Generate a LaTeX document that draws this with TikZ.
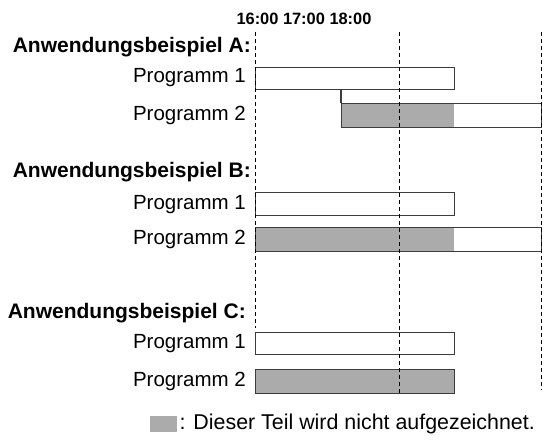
\documentclass[tikz,border=0pt]{standalone}
\usepackage{fontspec}
\setmainfont{Liberation Sans}
\usepackage{xcolor}
\usepackage{tikz}
\usetikzlibrary{
    positioning,
    calc
}
\definecolor{recgray}{HTML}{ABABAB}
\definecolor{recline}{HTML}{3C3C3C}
\tikzset{
    % Bar outline of a programme
    bar/.style={
        rectangle,
        draw=recline,
        line width=1.4pt,
        fill=none,
        inner sep=0pt,
        anchor=north west
    },
    % Part that is not recorded
    unrec/.style={
        rectangle,
        fill=recgray,
        draw=none,
        inner sep=0pt,
        anchor=north west
    },
    % Section heading
    heading/.style={
        font=\fontsize{21}{25}\selectfont\bfseries,
        inner sep=0pt
    },
    % Programme label
    proglabel/.style={
        font=\fontsize{20.5}{24}\selectfont,
        inner sep=0pt
    },
    % Legend text
    keytext/.style={
        font=\fontsize{21.4}{25}\selectfont,
        inner sep=0pt
    },
    % Time label
    timelabel/.style={
        font=\fontsize{16.4}{19}\selectfont\bfseries,
        inner sep=0pt
    },
    % Dashed time line
    timeline/.style={
        dash pattern=on 4pt off 3pt,
        line width=1pt,
        color=black
    }
}

\begin{document}
\begin{tikzpicture}[x=1pt,y=-1pt]
    \useasboundingbox (0,0) rectangle (546,440);

    \node[timelabel, anchor=base] (times) at (304,24) {16:00 17:00 18:00};

    % Example A
    \node[heading, anchor=base east] (head-a) at (251,52) {Anwendungsbeispiel A:};
    \node[unrec, minimum width=113pt, minimum height=24pt] (a-p2-off) at (341,103) {};
    \node[bar, minimum width=199pt, minimum height=22pt] (a-p1) at (255,67) {};
    \node[bar, minimum width=200pt, minimum height=24pt] (a-p2) at (341,103) {};
    \coordinate (a-r1) at (255,78);
    \coordinate (a-r2) at (255,115);
    \node[proglabel, left=9pt of a-r1] (a-l1) {Programm 1};
    \node[proglabel, left=9pt of a-r2] (a-l2) {Programm 2};
    \draw[draw=recline, line width=1.4pt] (a-p2.north west) -- (a-p2.north west |- a-p1.south);

    % Example B
    \node[heading, anchor=base east] (head-b) at (251,177) {Anwendungsbeispiel B:};
    \node[unrec, minimum width=199pt, minimum height=24pt] (b-p2-off) at (255,227) {};
    \node[bar, minimum width=199pt, minimum height=23pt] (b-p1) at (255,192) {};
    \node[bar, minimum width=286pt, minimum height=24pt] (b-p2) at (255,227) {};
    \node[proglabel, left=9pt of b-p1] (b-l1) {Programm 1};
    \node[proglabel, left=9pt of b-p2] (b-l2) {Programm 2};

    % Example C
    \node[heading, anchor=base east] (head-c) at (246,318) {Anwendungsbeispiel C:};
    \node[unrec, minimum width=199pt, minimum height=24pt] (c-p2-off) at (255,369) {};
    \node[bar, minimum width=199pt, minimum height=22pt] (c-p1) at (255,332) {};
    \node[bar, minimum width=199pt, minimum height=24pt] (c-p2) at (255,369) {};
    \node[proglabel, left=9pt of c-p1] (c-l1) {Programm 1};
    \node[proglabel, left=9pt of c-p2] (c-l2) {Programm 2};

    % time lines
    \coordinate (t16-top) at (255,32);
    \coordinate (t16-end) at (255,328);
    \coordinate (t17-top) at (399,32);
    \coordinate (t17-end) at (399,393);
    \coordinate (t18-top) at (541,32);
    \coordinate (t18-end) at (541,390);
    \draw[timeline] (t16-top) -- (t16-end);
    \draw[timeline] (t17-top) -- (t17-end);
    \draw[timeline] (t18-top) -- (t18-end);

    % legend
    \node[unrec, minimum width=27pt, minimum height=16pt] (key) at (150,416) {};
    \node[keytext, right=2pt of key] (key-text) {: Dieser Teil wird nicht aufgezeichnet.};
\end{tikzpicture}
\end{document}
